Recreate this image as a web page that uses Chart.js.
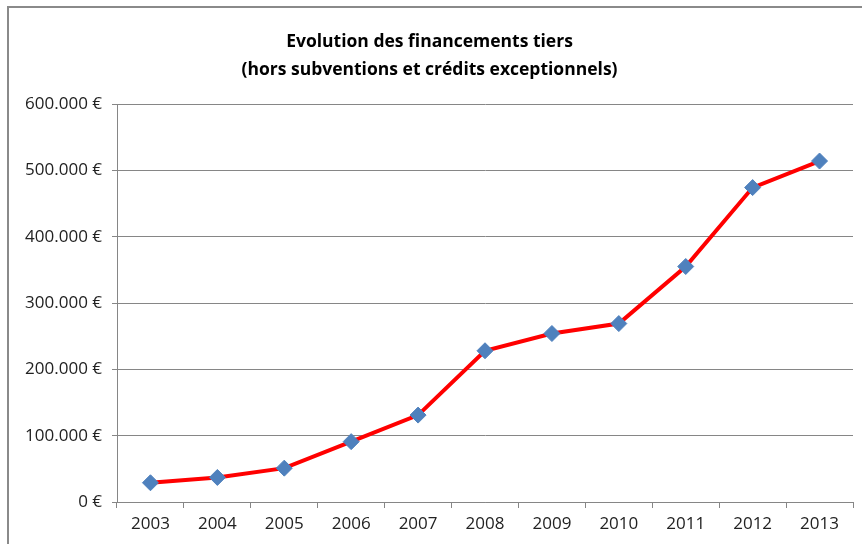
<!DOCTYPE html>
<html>
<head>
<meta charset="utf-8">
<script src="https://cdn.jsdelivr.net/npm/chart.js@4/dist/chart.umd.min.js"></script>
<style>
  html, body { margin: 0; padding: 0; background: #fff; overflow: hidden; }
  #cadre { position: absolute; left: 7px; top: 6px; width: 900px; height: 600px; border: 2px solid #8a8a8a; }
  #zone { position: absolute; left: 0; top: 0; width: 862px; height: 544px; }
</style>
</head>
<body>
<div id="cadre"></div>
<div id="zone"><canvas id="graphique"></canvas></div>
<script>
// Données
const annees = ['2003', '2004', '2005', '2006', '2007', '2008', '2009', '2010', '2011', '2012', '2013'];
const financements = [29000, 37000, 51000, 91000, 131000, 228000, 254000, 269000, 355000, 474000, 514000];
const yMin = 0;
const yMax = 600000;
const yPas = 100000;

function formatEuro(v) {
    return v.toString().replace(/\B(?=(\d{3})+(?!\d))/g, '.') + ' €';
}

const ctx = document.getElementById('graphique').getContext('2d');
new Chart(ctx, {
    type: 'line',
    data: {
        labels: annees,
        datasets: [{
            data: financements,
            borderColor: '#ff0000',
            borderWidth: 4,
            tension: 0,
            pointStyle: 'rectRot',
            pointRadius: 8,
            pointBackgroundColor: '#4f81bd',
            pointBorderColor: '#4f81bd',
            pointBorderWidth: 1,
        }],
    },
    options: {
        responsive: true,
        maintainAspectRatio: false,
        animation: false,
        layout: { padding: { left: 0, right: 3, top: 0, bottom: 0 } },
        plugins: {
            legend: { display: false },
            tooltip: { enabled: false },
            title: {
                display: true,
                text: ['Evolution des financements tiers', '(hors subventions et crédits exceptionnels)'],
                color: '#000',
                font: { family: 'Open Sans', size: 17.5, weight: 'bold', lineHeight: 1.6 },
                padding: { top: 28, bottom: 20 },
            },
        },
        scales: {
            x: {
                offset: true,
                grid: { offset: true, drawOnChartArea: false, drawTicks: true, tickLength: 6, color: '#868686' },
                border: { color: '#868686', width: 1 },
                ticks: { color: '#222', font: { family: 'Open Sans', size: 17 }, padding: 6 },
                afterFit: function (scale) { scale.height = 42; },
            },
            y: {
                min: yMin,
                max: yMax,
                ticks: {
                    stepSize: yPas,
                    color: '#222',
                    font: { family: 'Open Sans', size: 17 },
                    padding: 10,
                    callback: function (v) { return formatEuro(v); },
                },
                grid: { color: '#868686', tickLength: 5 },
                border: { color: '#868686', width: 1 },
                afterFit: function (scale) { scale.width = 117; },
            },
        },
    },
});
</script>
</body>
</html>
